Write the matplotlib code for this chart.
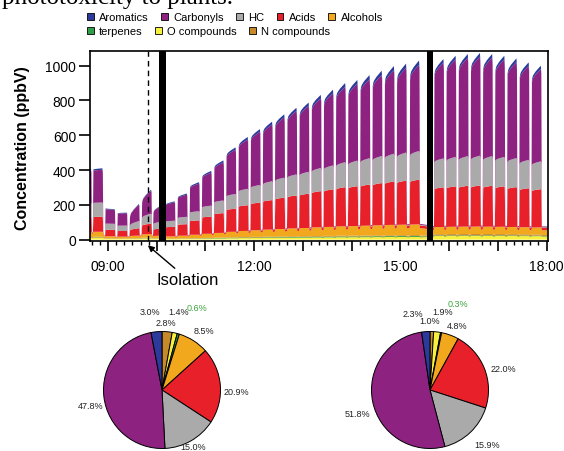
"""
plot.py
-------
Stacked VOC class concentrations over the day, with two composition pies.
"""

import numpy as np
import matplotlib
matplotlib.use("Agg")
import matplotlib.pyplot as plt
from matplotlib.patches import Patch

plt.rcParams["font.family"] = ["Liberation Sans", "DejaVu Sans"]

# ─── Data ─────────────────────────────────────────────────────────────────────

SPECIES = ["Aromatics", "Carbonyls", "HC", "Acids", "Alcohols",
           "terpenes", "O compounds", "N compounds"]
COLORS = ["#2B3A9B", "#8E2281", "#AAAAAA", "#E8202A", "#F2A81D",
          "#2F9E44", "#F7F03C", "#C68A2B"]
# bottom -> top order of the stacked areas (indices into SPECIES)
STACK_ORDER = [6, 5, 7, 4, 3, 2, 1, 0]

# cycle end times and the total at the top of each cycle (ppbV)
PRE_END = ["08:42", "08:56", "09:11", "09:26", "09:41", "09:56", "10:10"]
PRE_PEAK = [405, 410, 175, 155, 205, 287, 200]
PRE_RISE = [0.98, 0.98, 1.03, 0.98, 0.55, 0.70, 0.75]

MID_END = ["10:25", "10:40", "10:55", "11:10", "11:25", "11:40", "11:55",
           "12:10", "12:25", "12:40", "12:55", "13:10", "13:25", "13:40",
           "13:55", "14:10", "14:25", "14:40", "14:55", "15:10", "15:26"]
MID_PEAK = [220, 265, 330, 395, 455, 530, 590, 635, 678, 720, 758,
            788, 832, 862, 900, 918, 946, 971, 998, 1012, 1030]
MID_RISE = 0.90

LATE_END = ["15:56", "16:11", "16:26", "16:41", "16:56", "17:11",
            "17:26", "17:41", "17:56"]
LATE_PEAK = [1038, 1057, 1067, 1073, 1067, 1057, 1042, 1019, 1000]
LATE_RISE = 0.91

# share of each class at the cycle top
FRAC_PRE = [0.020, 0.46, 0.20, 0.21, 0.070, 0.005, 0.025, 0.010]
FRAC_MID = [0.025, 0.48, 0.16, 0.25, 0.060, 0.005, 0.015, 0.005]
FRAC_LATE = [0.020, 0.53, 0.16, 0.22, 0.040, 0.003, 0.020, 0.007]

# value kept at the cycle trough, and how fast each class builds up
VALLEY = [0.0, 0.01, 0.02, 0.06, 0.70, 0.90, 0.85, 0.90]
SHAPE_EXP = [4.0, 1.2, 0.7, 0.5, 0.2, 0.1, 0.1, 0.1]

BARS = [("10:03", "10:11"), ("15:33", "15:40")]
ISOLATION = "09:49"

XTICKS = [9, 10, 11, 12, 13, 14, 15, 16, 17, 18]
XTICK_LABELS = ["09:00", "", "", "12:00", "", "", "15:00", "", "", "18:00"]
YTICKS = [0, 200, 400, 600, 800, 1000]

PIE_LEFT = [3.0, 47.8, 15.0, 20.9, 8.5, 0.6, 1.4, 2.8]
PIE_RIGHT = [2.3, 51.8, 15.9, 22.0, 4.8, 0.3, 1.9, 1.0]


# ─── Helpers ──────────────────────────────────────────────────────────────────

def hhmm(s: str) -> float:
    h, m = s.split(":")
    return int(h) + int(m) / 60


# minutes into a 15-min cycle: trough, fast rise, slow build, top, shoulder, trough
T_OFF = np.array([0.0, 0.3, 1.0, 1.6, 2.5, 5.5, 9.0, 12.0, 12.6, 13.2]) / 60
PROGRESS = [None, None, 0.0, 0.2, 0.35, 0.6, 0.82, 1.0, "shoulder", None]


def build_series():
    valley = np.array(VALLEY)
    expo = np.array(SHAPE_EXP)
    groups = [
        (PRE_END, PRE_PEAK, PRE_RISE, FRAC_PRE),
        (MID_END, MID_PEAK, [MID_RISE] * len(MID_END), FRAC_MID),
        (LATE_END, LATE_PEAK, [LATE_RISE] * len(LATE_END), FRAC_LATE),
    ]
    times, rows = [], []
    for ends, peaks, rises, frac in groups:
        frac = np.array(frac)
        for end, peak, rise in zip(ends, peaks, rises):
            t0 = hhmm(end) - 0.25
            pk = peak * frac
            for dt, p in zip(T_OFF, PROGRESS):
                times.append(t0 + dt)
                if p is None:
                    rows.append(pk * valley)
                elif p == "shoulder":
                    rows.append(pk * 0.95 ** expo)
                else:
                    rows.append(pk * (rise + (1 - rise) * p) ** expo)
        times.append(hhmm(ends[-1]))
        rows.append(pk * valley)
    times.append(18.1)
    rows.append(rows[-1])
    return np.array(times), np.array(rows).T


# ─── Figure ───────────────────────────────────────────────────────────────────

W, H = 564, 452
fig = plt.figure(figsize=(W / 100, H / 100), dpi=100)

# cropped line of body text above the figure
fig.text(0.004, 1 - 4 / H, "phototoxicity to plants.", fontsize=18,
         family="Liberation Serif", va="baseline")

ax = fig.add_axes([90 / W, 1 - 242 / H, 458 / W, 190.3 / H])
t, layers = build_series()
ax.stackplot(t, *[layers[i] for i in STACK_ORDER],
             colors=[COLORS[i] for i in STACK_ORDER], linewidth=0)

for a, b in BARS:
    ax.axvspan(hhmm(a), hhmm(b), color="black", lw=0, zorder=3)
ax.axvline(hhmm(ISOLATION), color="black", lw=1, ls=(0, (4, 3)), zorder=3)

ax.set_xlim(8.63, 18.03)
ax.set_ylim(-8, 1086)
ax.set_xticks(XTICKS)
ax.set_xticklabels(XTICK_LABELS)
ax.set_xticks(np.arange(8 + 40 / 60, 18.05, 1 / 6), minor=True)
ax.set_yticks(YTICKS)
ax.tick_params(axis="both", labelsize=10, width=1.2, direction="out")
ax.tick_params(axis="x", which="major", length=7, pad=6)
ax.tick_params(axis="x", which="minor", length=3, width=1)
ax.tick_params(axis="y", length=8, pad=2)
for sp in ax.spines.values():
    sp.set_linewidth(1.2)

ax.annotate("Isolation", xy=(hhmm(ISOLATION), -33), xytext=(10.64, -229),
            ha="center", va="center", fontsize=12, annotation_clip=False,
            arrowprops=dict(arrowstyle="-|>", color="black", lw=1,
                            mutation_scale=9, shrinkA=1, shrinkB=0))

fig.text(23 / W, 1 - 148 / H, "Concentration (ppbV)", rotation=90,
         ha="center", va="center", fontsize=11.5, fontweight="bold")

# legend, two flowing rows
handles = [Patch(facecolor=c, edgecolor="black", linewidth=0.6, label=s)
           for s, c in zip(SPECIES, COLORS)]
for row, y in ((handles[:5], 18), (handles[5:], 32)):
    fig.legend(handles=row, loc="center left",
               bbox_to_anchor=(87 / W, 1 - y / H), ncol=len(row),
               frameon=False, fontsize=8, handlelength=0.6,
               handleheight=0.6, handletextpad=0.5, columnspacing=1.1,
               borderpad=0, borderaxespad=0)

# ─── Pies ─────────────────────────────────────────────────────────────────────

SCALE = 58.5       # px per unit radius
LIM = 1.7
LABEL_POS = {
    "left": [(-0.20, 1.34), (-1.22, -0.27), (0.54, -0.96), (1.27, -0.03),
             (0.71, 1.02), (0.59, 1.41), (0.29, 1.34), (0.07, 1.15)],
    "right": [(-0.29, 1.31), (-1.24, -0.40), (0.98, -0.93), (1.26, 0.36),
              (0.47, 1.10), (0.48, 1.48), (0.22, 1.34), (0.00, 1.19)],
}
PIE_ORDER = [7, 6, 5, 4, 3, 2, 1, 0]   # clockwise from 12 o'clock

for key, vals, (cx, cy) in (("left", PIE_LEFT, (162, 391)),
                            ("right", PIE_RIGHT, (430, 391))):
    side = 2 * LIM * SCALE
    pax = fig.add_axes([(cx - side / 2) / W, (H - cy - side / 2) / H,
                        side / W, side / H])
    pax.pie([vals[i] for i in PIE_ORDER],
            colors=[COLORS[i] for i in PIE_ORDER], startangle=90,
            counterclock=False, radius=1,
            wedgeprops=dict(edgecolor="black", linewidth=0.7))
    pax.set_xlim(-LIM, LIM)
    pax.set_ylim(-LIM, LIM)
    pax.axis("off")
    for v, s, (lx, ly) in zip(vals, SPECIES, LABEL_POS[key]):
        color = "#3DA33D" if s == "terpenes" else "#222222"
        pax.text(lx, ly, f"{v:.1f}%", ha="center", va="center",
                 fontsize=6.5, color=color, clip_on=False)

fig.savefig("out.png", dpi=100)
plt.close(fig)
